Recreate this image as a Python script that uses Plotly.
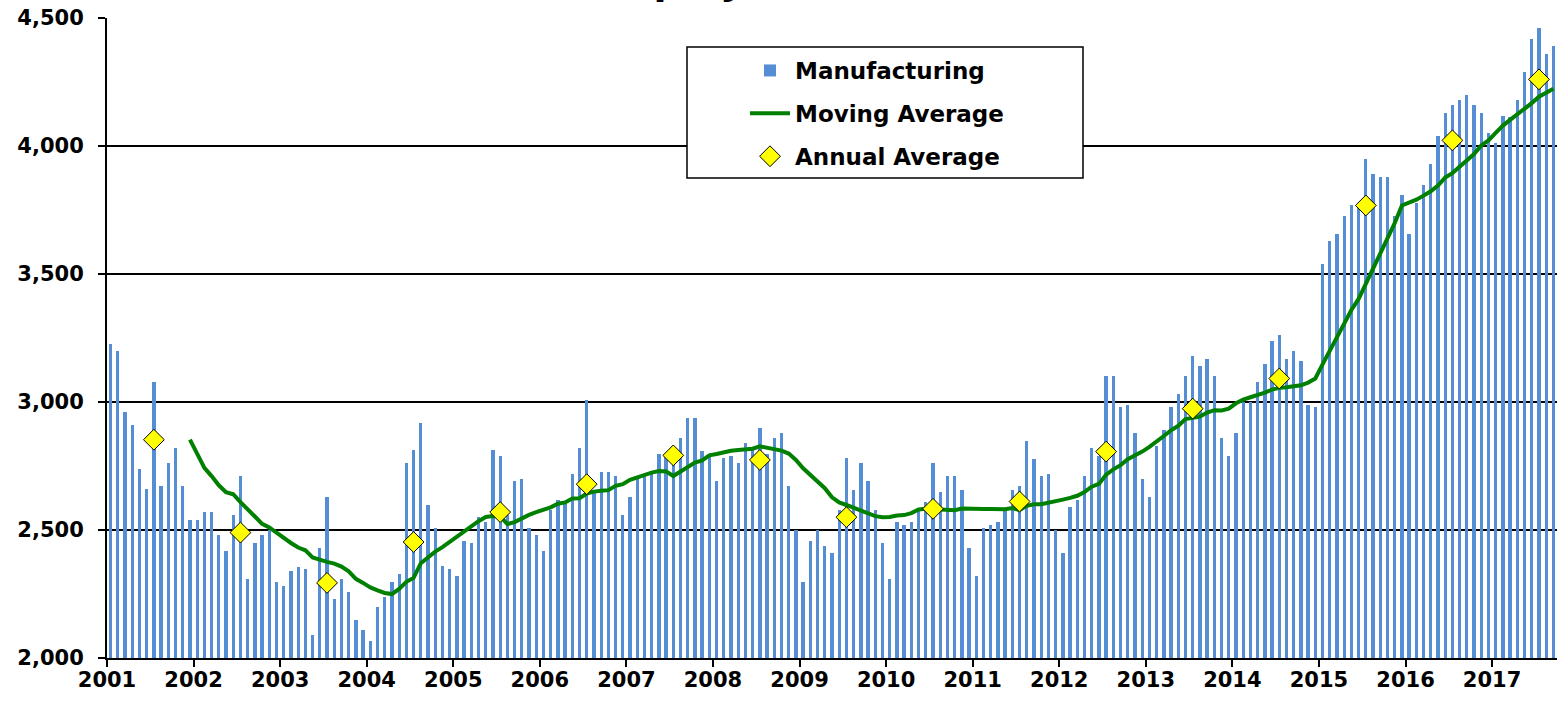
import pandas as pd
import plotly.graph_objects as go

# Monthly manufacturing employment, Jan 2001 - Sep 2017
years = list(range(2001, 2018))
tick_labels = [str(y) for y in years]
y_ticks = [2000, 2500, 3000, 3500, 4000, 4500]

mfg_2001 = [3228, 3198, 2960, 2909, 2740, 2660, 3079, 2670, 2761, 2819, 2670, 2539]
mfg_2002 = [2539, 2570, 2570, 2479, 2419, 2560, 2710, 2307, 2449, 2479, 2500, 2298]
mfg_2003 = [2281, 2339, 2356, 2349, 2089, 2428, 2628, 2230, 2307, 2258, 2147, 2109]
mfg_2004 = [2068, 2198, 2237, 2298, 2330, 2761, 2811, 2919, 2598, 2509, 2358, 2349]
mfg_2005 = [2319, 2458, 2449, 2549, 2530, 2811, 2788, 2560, 2690, 2698, 2509, 2479]
mfg_2006 = [2419, 2579, 2619, 2609, 2719, 2819, 3009, 2650, 2728, 2728, 2710, 2558]
mfg_2007 = [2628, 2698, 2715, 2728, 2798, 2798, 2790, 2859, 2938, 2938, 2810, 2798]
mfg_2008 = [2690, 2780, 2788, 2760, 2838, 2820, 2900, 2798, 2860, 2880, 2670, 2500]
mfg_2009 = [2298, 2458, 2500, 2439, 2409, 2579, 2781, 2658, 2760, 2690, 2579, 2449]
mfg_2010 = [2307, 2530, 2519, 2530, 2579, 2609, 2760, 2649, 2710, 2710, 2658, 2430]
mfg_2011 = [2319, 2509, 2519, 2530, 2575, 2658, 2670, 2847, 2779, 2710, 2719, 2500]
mfg_2012 = [2409, 2588, 2619, 2710, 2819, 2789, 3100, 3100, 2979, 2988, 2877, 2698]
mfg_2013 = [2628, 2828, 2889, 2979, 3030, 3100, 3179, 3140, 3168, 3100, 2860, 2788]
mfg_2014 = [2879, 3000, 3000, 3079, 3149, 3240, 3260, 3168, 3198, 3160, 2988, 2979]
mfg_2015 = [3539, 3628, 3658, 3728, 3768, 3758, 3949, 3889, 3879, 3879, 3728, 3809]
mfg_2016 = [3658, 3779, 3849, 3930, 4040, 4130, 4160, 4179, 4200, 4160, 4130, 4049]
mfg_2017 = [4011, 4119, 4115, 4179, 4290, 4419, 4460, 4360, 4390]

by_year = [mfg_2001, mfg_2002, mfg_2003, mfg_2004, mfg_2005, mfg_2006, mfg_2007,
           mfg_2008, mfg_2009, mfg_2010, mfg_2011, mfg_2012, mfg_2013, mfg_2014,
           mfg_2015, mfg_2016, mfg_2017]

rows = []
for yr, vals in zip(years, by_year):
    for m, v in enumerate(vals):
        rows.append({"year": yr, "month": m, "value": v})
df = pd.DataFrame(rows)
df["x"] = df["year"] + (df["month"] + 0.5) / 12.0
df["ma"] = df["value"].rolling(12).mean()

annual = df.groupby("year")["value"].mean().reset_index()
annual["x"] = annual["year"] + 6.5 / 12.0

FONT = "DejaVu Sans"

fig = go.Figure()
fig.add_trace(go.Bar(
    x=df["x"], y=df["value"], width=0.46 / 12.0,
    marker=dict(color="#558ED5", line=dict(width=0)),
    name="Manufacturing", legendgroup="a",
))
fig.add_trace(go.Scatter(
    x=df["x"], y=df["ma"], mode="lines",
    line=dict(color="#008000", width=4),
    name="Moving Average", legendgroup="b",
))
fig.add_trace(go.Scatter(
    x=annual["x"], y=annual["value"], mode="markers",
    marker=dict(symbol="diamond", size=16, color="#FFFF00",
                line=dict(color="black", width=1)),
    name="Annual Average", legendgroup="c",
))

W, H = 1557, 704
L, R, T, B = 107, 0, 18, 46
pw, ph = W - L - R, H - T - B

def px_x(p):
    return (p - L) / pw

def px_y(p):
    return 1 - (p - T) / ph

fig.update_layout(
    width=W, height=H, autosize=False,
    margin=dict(l=L, r=R, t=T, b=B, pad=0),
    paper_bgcolor="white", plot_bgcolor="white",
    bargap=0,
    showlegend=True,
    legend=dict(
        x=px_x(687), y=px_y(49), xanchor="left", yanchor="top",
        bgcolor="rgba(0,0,0,0)", borderwidth=0,
        font=dict(family=FONT, size=23, color="black", weight="bold"),
        traceorder="grouped", tracegroupgap=10,
        indentation=58, itemwidth=40,
    ),
    shapes=[dict(
        type="rect", xref="paper", yref="paper",
        x0=px_x(687), x1=px_x(1083), y0=px_y(178), y1=px_y(47),
        fillcolor="white", line=dict(color="black", width=1.5), layer="above",
    )],
    annotations=[dict(
        text="Employment,", xref="paper", yref="paper",
        x=px_x(586), y=px_y(5), xanchor="left", yanchor="bottom",
        showarrow=False,
        font=dict(family=FONT, size=38, color="black", weight="bold"),
    )],
    xaxis=dict(
        range=[2001, 2017.75],
        tickmode="array", tickvals=years, ticktext=tick_labels,
        ticks="outside", ticklen=7, tickwidth=1.5, tickcolor="black",
        showline=True, linecolor="black", linewidth=2,
        showgrid=False, zeroline=False, ticklabelstandoff=-5,
        tickfont=dict(family=FONT, size=21, color="black", weight="bold"),
    ),
    yaxis=dict(
        range=[2000, 4500],
        tickmode="array", tickvals=y_ticks,
        tickformat=",", ticks="outside", ticklen=7, tickwidth=1.5, tickcolor="black",
        showline=True, linecolor="black", linewidth=2,
        showgrid=True, gridcolor="black", gridwidth=1.5,
        zeroline=False, ticklabelstandoff=10,
        tickfont=dict(family=FONT, size=21, color="black", weight="bold"),
    ),
)

fig.write_html(
    "out.html",
    config={"displayModeBar": False},
    post_script="document.body.style.margin='0';document.body.style.overflow='hidden';",
)
